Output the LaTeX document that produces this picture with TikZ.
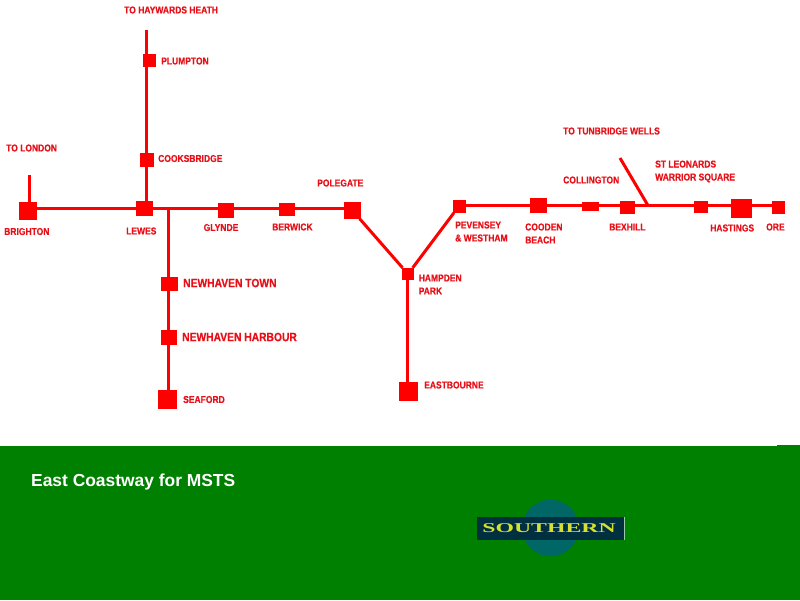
\documentclass[tikz,border=0pt]{standalone}
\usepackage{fontspec}
\setmainfont{Liberation Sans}
\newfontfamily\logofont{Liberation Serif}
\newfontfamily\labfont[FakeStretch=0.85,FakeBold=0.4]{Liberation Sans Bold}
\definecolor{railred}{RGB}{255,0,0}
\definecolor{labelred}{RGB}{232,16,24}
\definecolor{bandgreen}{RGB}{0,128,0}
\definecolor{logoteal}{RGB}{0,102,102}
\definecolor{logonavy}{RGB}{0,48,64}
\definecolor{logoyellow}{RGB}{214,224,50}
\definecolor{logoedge}{RGB}{150,200,170}
\tikzset{
  x=1pt,y=-1pt,
  track/.style={draw=railred,line width=3pt},
  branch/.style={draw=railred,line width=2.4pt},
  halt/.style={fill=railred,draw=none,inner sep=0pt,minimum width=#1,minimum height=#1},
  lab/.style={text=labelred,font=\labfont\fontsize{10}{13}\selectfont,anchor=west,inner sep=0pt,align=left},
  bigl/.style={lab,font=\labfont\fontsize{12.1}{13}\selectfont},
}
\begin{document}
\begin{tikzpicture}
\useasboundingbox (0,0) rectangle (800,600);
\fill[white] (0,0) rectangle (800,600);
\fill[bandgreen] (0,446) rectangle (800,600);
\fill[bandgreen] (777,445) rectangle (800,446);

% stations
\node[halt=18pt] (brighton) at (28,211) {};
\node[halt=15pt,minimum width=17pt] (lewes) at (144.5,208.5) {};
\node[halt=14pt] (cooks) at (147,160) {};
\node[halt=13pt] (plumpton) at (149,60.5) {};
\node[halt=15pt,minimum width=16pt] (glynde) at (226,210) {};
\node[halt=13pt,minimum width=16pt] (berwick) at (287,209) {};
\node[halt=17pt] (polegate) at (352,210) {};
\node[halt=12pt] (hampden) at (408,274) {};
\node[halt=13pt] (pevensey) at (459,206) {};
\node[halt=15pt,minimum width=17pt] (cooden) at (538.5,205) {};
\node[halt=9pt,minimum width=17pt] (collington) at (590.5,206) {};
\node[halt=13pt,minimum width=15pt] (bexhill) at (627,207) {};
\node[halt=12pt,minimum width=14pt] (stleonards) at (701,207) {};
\node[halt=19pt,minimum width=21pt] (hastings) at (741.5,208.5) {};
\node[halt=13pt] (ore) at (778,207) {};
\node[halt=14pt,minimum width=17pt] (nhtown) at (169,283.5) {};
\node[halt=15pt,minimum width=16pt] (nhharbour) at (169,337) {};
\node[halt=19pt] (seaford) at (167.5,399) {};
\node[halt=19pt] (eastbourne) at (408,391) {};

% free ends and junctions
\coordinate (london) at (29.5,175);
\coordinate (brightonjoin) at (29.5,208);
\coordinate (haywards) at (146.5,30);
\coordinate (lewesjoin) at (146.5,208);
\coordinate (nhjoin) at (168.5,207);
\coordinate (nhbottom) at (168.5,399);
\coordinate (tunbridge) at (620,158);
\coordinate (tunjoin) at (648,205.5);
\coordinate (polemain) at (352,208.5);
\coordinate (brightonmain) at (28,208.5);
\coordinate (pevmain) at (459,205.5);
\coordinate (oremain) at (778,205.5);
\coordinate (hampdendown) at (407.5,274);
\coordinate (eastdown) at (407.5,391);

% track
\draw[track] (brightonmain) -- (polemain);
\draw[track] (pevmain) -- (oremain);
\draw[branch] (london) -- (brightonjoin);
\draw[track] (haywards) -- (lewesjoin);
\draw[branch] (nhjoin) -- (nhbottom);
\draw[track] (polegate) -- (hampden);
\draw[track] (hampden) -- (pevensey);
\draw[track] (hampdendown) -- (eastdown);
\draw[track] (tunbridge) -- (tunjoin);

% labels
\node[lab] (l1) at (124,10) {TO HAYWARDS HEATH};
\node[lab] (l2) at (161,61) {PLUMPTON};
\node[lab] (l3) at (6,148) {TO LONDON};
\node[lab] (l4) at (158,158.5) {COOKSBRIDGE};
\node[lab] (l5) at (4,231.5) {BRIGHTON};
\node[lab] (l6) at (126,231) {LEWES};
\node[lab] (l7) at (203.5,227.5) {GLYNDE};
\node[lab] (l8) at (272,227) {BERWICK};
\node[lab] (l9) at (317,183) {POLEGATE};
\node[lab] (l10) at (455,231.5) {PEVENSEY\\\& WESTHAM};
\node[lab] (l11) at (525,233.5) {COODEN\\BEACH};
\node[lab] (l12) at (563,180) {COLLINGTON};
\node[lab] (l13) at (609,227) {BEXHILL};
\node[lab] (l14) at (563,131) {TO TUNBRIDGE WELLS};
\node[lab] (l15) at (655,171.5) {ST LEONARDS\\WARRIOR SQUARE};
\node[lab] (l16) at (710,228) {HASTINGS};
\node[lab] (l17) at (766,227) {ORE};
\node[lab] (l18) at (418.5,284.5) {HAMPDEN\\PARK};
\node[lab] (l19) at (424,385) {EASTBOURNE};
\node[bigl] (l20) at (183,283) {NEWHAVEN TOWN};
\node[bigl] (l21) at (182,337) {NEWHAVEN HARBOUR};
\node[lab] (l22) at (183,399.5) {SEAFORD};

% footer
\node[text=white,font=\bfseries\fontsize{17.4}{18}\selectfont,anchor=west,inner sep=0pt] (title) at (31,482) {East Coastway for MSTS};

% logo
\fill[logoteal] (550.5,528) circle (28.3);
\node[fill=logonavy,inner sep=0pt,minimum width=148pt,minimum height=22.5pt] (bar) at (550.5,528.25) {};
\draw[logoedge,line width=0.8pt] (bar.north east) -- (bar.south east);
\node[text=logoyellow,inner sep=0pt] (logo) at (549,528.5) {\logofont\bfseries\fontsize{13.5}{14}\selectfont\scalebox{1.76}[1]{SOUTHERN}};
\end{tikzpicture}
\end{document}
